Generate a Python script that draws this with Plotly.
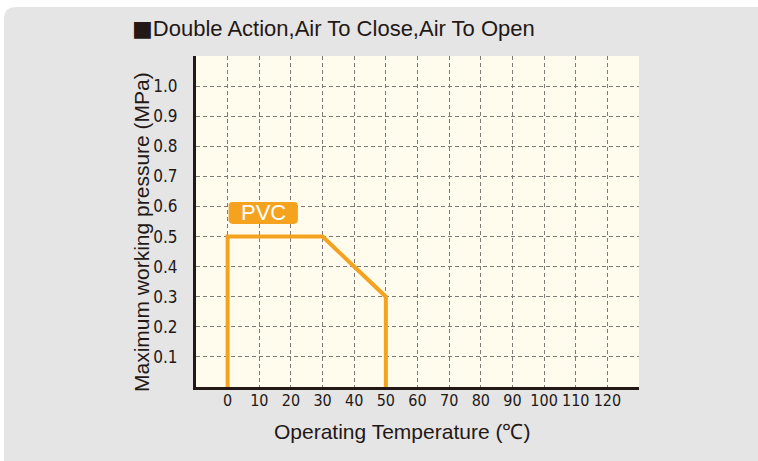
import plotly.graph_objects as go

# ---- data ----
temperature = [0, 0, 30, 50, 50]
pressure = [0, 0.5, 0.5, 0.3, 0]
series_name = "PVC"

x_tickvals = [-10, 0, 10, 20, 30, 40, 50, 60, 70, 80, 90, 100, 110, 120, 130]
x_ticktext = ["", "0", "10", "20", "30", "40", "50", "60", "70", "80", "90", "100", "110", "120", ""]
y_tickvals = [0, 0.1, 0.2, 0.3, 0.4, 0.5, 0.6, 0.7, 0.8, 0.9, 1.0, 1.1]
y_ticktext = ["", "0.1", "0.2", "0.3", "0.4", "0.5", "0.6", "0.7", "0.8", "0.9", "1.0", ""]

title_mark = "■"
title_text = "Double Action,Air To Close,Air To Open"
x_title = "Operating Temperature (℃)"
y_title = "Maximum working pressure (MPa)"

# ---- styling ----
W, H = 758, 461
L, R, T, B = 196, 119, 56, 74
PW, PH = W - L - R, H - T - B
TXT = "#231815"
ORANGE = "#F5A21F"
GRID = "#7d7a76"
PANEL = "#e5e5e5"
CREAM = "#fffcee"
NARROW = "DejaVu Sans Condensed, sans-serif"
SANS = "Liberation Sans, Arial, sans-serif"


def px_x(p):
    return (p - L) / PW


def px_y(p):
    return (H - B - p) / PH


fig = go.Figure()
fig.add_trace(go.Scatter(
    x=temperature, y=pressure, mode="lines", name=series_name,
    line=dict(color=ORANGE, width=4),
    hoverinfo="skip", showlegend=False, cliponaxis=False,
))

shapes = []
x0, yt = px_x(4), px_y(7)
rx, ry = 12 / PW, 12 / PH
shapes.append(dict(type="rect", xref="paper", yref="paper", x0=px_x(0), x1=px_x(W),
                   y0=yt, y1=px_y(0), fillcolor="white", line_width=0, layer="above"))
shapes.append(dict(type="rect", xref="paper", yref="paper", x0=px_x(0), x1=x0,
                   y0=px_y(H), y1=px_y(0), fillcolor="white", line_width=0, layer="above"))
shapes.append(dict(type="path", xref="paper", yref="paper",
                   path=f"M {x0} {yt} L {x0+rx} {yt} Q {x0} {yt} {x0} {yt-ry} Z",
                   fillcolor="white", line_width=0, layer="above"))

bx0, bx1, by0, by1 = 0.3, 22.2, 0.542, 0.615
rxd, ryd = 1.3, 0.0135
shapes.append(dict(
    type="path", xref="x", yref="y", layer="above",
    path=(f"M {bx0+rxd} {by0} L {bx1-rxd} {by0} Q {bx1} {by0} {bx1} {by0+ryd} "
          f"L {bx1} {by1-ryd} Q {bx1} {by1} {bx1-rxd} {by1} "
          f"L {bx0+rxd} {by1} Q {bx0} {by1} {bx0} {by1-ryd} "
          f"L {bx0} {by0+ryd} Q {bx0} {by0} {bx0+rxd} {by0} Z"),
    fillcolor=ORANGE, line_width=0))

title_html = (f"<span style='font-family:DejaVu Sans;font-size:22px'>{title_mark}</span>"
              f"{title_text}")

annotations = [
    dict(text=series_name, x=(bx0 + bx1) / 2, y=(by0 + by1) / 2, xref="x", yref="y",
         showarrow=False, font=dict(family=SANS, size=22, color="white"),
         xanchor="center", yanchor="middle"),
    dict(text=title_html, x=px_x(130), y=px_y(28), xref="paper", yref="paper",
         showarrow=False, font=dict(family=SANS, size=22, color=TXT),
         xanchor="left", yanchor="middle"),
    dict(text=x_title, x=px_x(402), y=px_y(431), xref="paper", yref="paper",
         showarrow=False, font=dict(family=SANS, size=21, color=TXT),
         xanchor="center", yanchor="middle"),
    dict(text=y_title, x=px_x(141), y=px_y(232), xref="paper", yref="paper",
         showarrow=False, textangle=-90, font=dict(family=SANS, size=21, color=TXT),
         xanchor="center", yanchor="middle"),
]

fig.update_layout(
    width=W, height=H,
    margin=dict(l=L, r=R, t=T, b=B, pad=0),
    paper_bgcolor=PANEL, plot_bgcolor=CREAM,
    shapes=shapes, annotations=annotations,
    xaxis=dict(range=[-10, 130], tickmode="array", tickvals=x_tickvals, ticktext=x_ticktext,
               showgrid=True, gridcolor=GRID, gridwidth=1, griddash="4px,3px",
               zeroline=False, showline=True, linecolor=TXT, linewidth=3,
               ticks="", ticklabelstandoff=-3, tickangle=0,
               tickfont=dict(family=NARROW, size=16, color=TXT), fixedrange=True),
    yaxis=dict(range=[0, 1.1], tickmode="array", tickvals=y_tickvals, ticktext=y_ticktext,
               showgrid=True, gridcolor=GRID, gridwidth=1, griddash="4px,3px",
               zeroline=False, showline=True, linecolor=TXT, linewidth=3,
               ticks="", ticklabelstandoff=12,
               tickfont=dict(family=NARROW, size=17, color=TXT), fixedrange=True),
)

fig.write_html("out.html", include_plotlyjs=True, config={"displayModeBar": False},
               post_script="document.body.style.margin='0';")
